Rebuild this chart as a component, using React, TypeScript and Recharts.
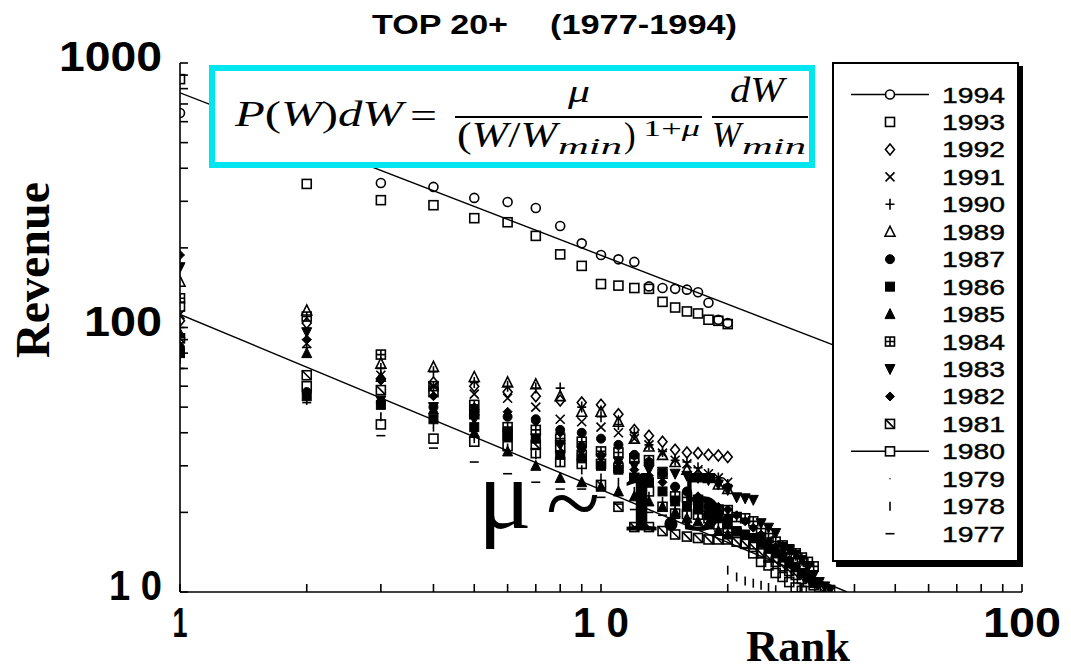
import { ScatterChart, Scatter, XAxis, YAxis } from 'recharts';

// ranks (x) shared by every year
const ranks = [
  1, 2, 3, 4, 5, 6, 7, 8, 9, 10, 11, 12, 13, 14, 15, 16, 17, 18, 19, 20,
  21, 22, 23, 24, 25, 26, 27, 28, 29, 30, 31, 32, 33, 34, 35,
];

// revenue by rank
const y1994 = [647, 480, 352, 340, 309, 298, 283, 242, 208, 188, 181, 177, 143, 141, 140, 139, 136, 124, 107, 104];
const y1993 = [869, 349, 303, 290, 259, 250, 222, 189, 171, 146, 144, 141, 140, 125, 119, 115, 113, 107, 106, 103];
const y1992 = [106, 104, 64, 62, 60, 57, 55, 53, 52, 51, 47, 41, 39, 37, 34.5, 33.7, 33.5, 33, 32.8, 32.4];
const y1991 = [112, 87, 66, 60, 56, 54, 50, 45, 44, 42, 40, 38, 36, 33.5, 31.5, 30.5, 29, 28, 27, 26];
const y1990 = [100, 84, 70, 68, 62, 60, 59, 59, 50, 46, 43, 40, 36, 34, 31.5, 31, 29.5, 28, 27, 25.5];
const y1989 = [149, 116, 73, 71, 65, 62, 61, 55, 48, 48, 44, 38, 35.5, 33, 31, 29, 28, 27, 25.5, 24.5];
const y1987 = [84, 57, 52, 50, 48, 46, 45, 41, 40, 38, 36, 33, 31, 28, 25, 24, 22, 21, 20, 19];
const y1986 = [80, 55, 51, 45, 42, 39, 38, 33, 32, 30, 29, 27, 26, 24, 22, 21, 20.5, 19.5, 19, 18, 17, 16.5, 16, 15.3, 14.6, 14, 13.6, 12.9, 12.4, 11.8, 11.4, 10.8];
const y1985 = [95, 80, 65, 49, 40, 34, 30, 27, 26, 25, 24, 23, 22, 21, 20, 19, 18.5, 18, 17, 16.5];
const y1984 = [129, 110, 79, 60, 51, 42, 41, 38, 37, 34, 33.7, 32, 31.5, 28, 23, 22.8, 22.3, 21, 20.5, 20.4, 19.2, 19, 18.5, 16.7, 16, 15.5, 15, 14.5, 14, 13.5, 13, 12.5];
const y1983 = [169, 96, 53, 50, 45, 40, 38, 36, 34, 32, 31, 30, 29, 28.5, 28, 27.5, 27, 26.5, 25.5, 24.3, 22.8, 22.6, 22.3, 18.2, 17.5, 16.7, 14.8, 14.4, 13.8, 13.2, 12.4, 11.6, 10.9, 10.5, 10.2];
const y1982 = [188, 90, 63, 55, 50, 48, 44, 40, 36, 33, 31, 29, 27.5, 26, 25, 24, 23, 22, 21, 20.5, 19.5, 18.5, 17.5, 16.5, 15.5, 14.8, 14, 13.2, 12.5, 11.8];
const y1981 = [91, 66, 58, 57, 47, 39, 36, 35, 33, 25.4, 21, 17.6, 17.6, 17, 16.5, 16.2, 16, 15.8, 15.8, 15.8, 15.5, 15.2, 14.8, 14, 13.5, 13, 12.5, 12, 11.6, 11.2, 10.9, 10.6, 10.4, 10.2, 10.1];
const y1980 = [120, 60, 43, 38, 37, 35.6, 33.5, 31, 30.5, 30.5, 29.5, 27, 24, 21, 19.8, 19.7, 19.6, 19, 18, 17, 16.7, 15.3, 14, 13, 12.6, 11.8, 11.4, 10.9, 10.4, 10.1];
const y1979 = [82, 56, 47, 42, 38, 35, 32, 30, 28, 26.5, 25, 23.5, 22.5, 21.5, 20.5, 20, 19.5, 19, 18.5, 18];
const y1978 = [76, 53, 46, 42, 38, 35, 33, 31, 29, 27, 26, 24, 23, 22, 21, 20, 19.5, 19, 18, 12.1, 11.4, 11, 10.8, 10.6, 10.4, 10.2];
const y1977 = [70, 52, 39, 35, 31, 28, 26, 24.5, 24.5, 22.8, 21.5, 20.5, 20, 19.5, 19, 18.5, 18, 17.5, 17, 16.8];

// power-law fits (end points)
const fitRanksTop = [1, 40];
const fitValuesTop = [771, 80];
const fitRanksLow = [1, 38.4];
const fitValuesLow = [112, 10];

const xTicks = [1, 2, 3, 4, 5, 6, 7, 8, 9, 10, 20, 30, 40, 50, 60, 70, 80, 90, 100];
const yTicks = [10, 20, 30, 40, 50, 60, 70, 80, 90, 100, 200, 300, 400, 500, 600, 700, 800, 900, 1000];
const xLabels: Record<number, [string, number]> = { 1: ['1', 15], 10: ['1 0', 56], 100: ['100', 78] };
const yLabels: Record<number, [string, number]> = { 10: ['1 0', 53], 100: ['100', 78], 1000: ['1000', 103] };

type Kind =
  | 'circle' | 'square' | 'diamond' | 'cross' | 'plus' | 'triangle' | 'dot'
  | 'fsquare' | 'ftriangle' | 'sqplus' | 'tridown' | 'fdiamond' | 'sqslash'
  | 'pixel' | 'vtick' | 'htick';

const series: { year: string; kind: Kind; values: number[]; line?: boolean }[] = [
  { year: '1994', kind: 'circle', values: y1994, line: true },
  { year: '1993', kind: 'square', values: y1993 },
  { year: '1992', kind: 'diamond', values: y1992 },
  { year: '1991', kind: 'cross', values: y1991 },
  { year: '1990', kind: 'plus', values: y1990 },
  { year: '1989', kind: 'triangle', values: y1989 },
  { year: '1987', kind: 'dot', values: y1987 },
  { year: '1986', kind: 'fsquare', values: y1986 },
  { year: '1985', kind: 'ftriangle', values: y1985 },
  { year: '1984', kind: 'sqplus', values: y1984 },
  { year: '1983', kind: 'tridown', values: y1983 },
  { year: '1982', kind: 'fdiamond', values: y1982 },
  { year: '1981', kind: 'sqslash', values: y1981 },
  { year: '1980', kind: 'square', values: y1980, line: true },
  { year: '1979', kind: 'pixel', values: y1979 },
  { year: '1978', kind: 'vtick', values: y1978 },
  { year: '1977', kind: 'htick', values: y1977 },
];

const toPoints = (xs: number[], ys: number[]) => ys.map((v, i) => ({ x: xs[i], y: v }));

function Marker({ kind, cx, cy }: { kind: Kind; cx: number; cy: number }) {
  const k = { stroke: '#000', strokeWidth: 1.6, fill: 'none' };
  const f = { fill: '#000', stroke: '#000', strokeWidth: 1 };
  const s = 4.5;
  switch (kind) {
    case 'circle':
      return <circle cx={cx} cy={cy} r={s} {...k} />;
    case 'square':
      return <rect x={cx - s} y={cy - s} width={2 * s} height={2 * s} {...k} />;
    case 'diamond':
      return <path d={`M${cx},${cy - s - 1}L${cx + s},${cy}L${cx},${cy + s + 1}L${cx - s},${cy}Z`} {...k} />;
    case 'cross':
      return <path d={`M${cx - s},${cy - s}L${cx + s},${cy + s}M${cx - s},${cy + s}L${cx + s},${cy - s}`} {...k} />;
    case 'plus':
      return <path d={`M${cx - s},${cy}L${cx + s},${cy}M${cx},${cy - s - 1}L${cx},${cy + s + 1}`} {...k} />;
    case 'triangle':
      return <path d={`M${cx},${cy - s - 1}L${cx + s + 0.5},${cy + s}L${cx - s - 0.5},${cy + s}Z`} {...k} />;
    case 'dot':
      return <circle cx={cx} cy={cy} r={s} {...f} />;
    case 'fsquare':
      return <rect x={cx - s} y={cy - s} width={2 * s} height={2 * s} {...f} />;
    case 'ftriangle':
      return <path d={`M${cx},${cy - s - 1}L${cx + s + 0.5},${cy + s}L${cx - s - 0.5},${cy + s}Z`} {...f} />;
    case 'sqplus':
      return (
        <g {...k}>
          <rect x={cx - s} y={cy - s} width={2 * s} height={2 * s} />
          <path d={`M${cx - s},${cy}L${cx + s},${cy}M${cx},${cy - s}L${cx},${cy + s}`} />
        </g>
      );
    case 'tridown':
      return <path d={`M${cx - s - 0.5},${cy - s}L${cx + s + 0.5},${cy - s}L${cx},${cy + s + 1}Z`} {...f} />;
    case 'fdiamond':
      return <path d={`M${cx},${cy - s}L${cx + s},${cy}L${cx},${cy + s}L${cx - s},${cy}Z`} {...f} />;
    case 'sqslash':
      return (
        <g {...k}>
          <rect x={cx - s} y={cy - s} width={2 * s} height={2 * s} />
          <path d={`M${cx - s},${cy - s}L${cx + s},${cy + s}`} />
        </g>
      );
    case 'pixel':
      return <circle cx={cx} cy={cy} r={0.7} fill="#000" />;
    case 'vtick':
      return <path d={`M${cx},${cy - s}L${cx},${cy + s}`} {...k} />;
    case 'htick':
      return <path d={`M${cx - s},${cy}L${cx + s},${cy}`} {...k} />;
  }
  return null;
}

const tickFont = { fontFamily: 'Liberation Sans, Arial, sans-serif', fontWeight: 700, fontSize: 42, fill: '#000' };

function YTick(props: any) {
  const lab = yLabels[props.payload.value];
  if (!lab) return <g />;
  return (
    <text x={props.x} y={props.y + 8} textAnchor="end" textLength={lab[1]} lengthAdjust="spacingAndGlyphs" {...tickFont}>
      {lab[0]}
    </text>
  );
}

function XTick(props: any) {
  const lab = xLabels[props.payload.value];
  if (!lab) return <g />;
  return (
    <text x={props.x - lab[1] / 2} y={props.y} textLength={lab[1]} lengthAdjust="spacingAndGlyphs" {...tickFont}>
      {lab[0]}
    </text>
  );
}

const serif = 'Liberation Serif, Times New Roman, serif';
const cyan = '#00e6ef';

function Overlay() {
  const rowY = (i: number) => 94.5 + 27.45 * i;
  return (
    <svg width={1071} height={670} style={{ position: 'absolute', left: 0, top: 0, pointerEvents: 'none' }}>
      {/* title */}
      <g fontFamily="Liberation Sans, Arial, sans-serif" fontWeight={700} fontSize={27}>
        <text x={372} y={34} textLength={136} lengthAdjust="spacingAndGlyphs">TOP 20+</text>
        <text x={550} y={34} textLength={187} lengthAdjust="spacingAndGlyphs">(1977-1994)</text>
      </g>
      {/* axis titles */}
      <text transform="translate(49,270) rotate(-90)" textAnchor="middle" fontFamily={serif} fontWeight={700} fontSize={48}>
        Revenue
      </text>
      <text x={746} y={661} textLength={104} lengthAdjust="spacingAndGlyphs" fontFamily={serif} fontWeight={700} fontSize={44}>
        Rank
      </text>

      {/* formula box */}
      <rect x={212} y={68} width={600} height={97} fill="#fff" stroke={cyan} strokeWidth={6} />
      <g fontFamily={serif} fill="#000">
        <text x={235} y={126} fontSize={35} textLength={168} lengthAdjust="spacingAndGlyphs">
          <tspan fontStyle="italic">P</tspan>(<tspan fontStyle="italic">W</tspan>)<tspan fontStyle="italic">dW</tspan>
        </text>
        <text x={410} y={128} fontSize={36} textLength={27} lengthAdjust="spacingAndGlyphs">=</text>
        <text x={568} y={102} fontSize={32} fontStyle="italic" textLength={22} lengthAdjust="spacingAndGlyphs">μ</text>
        <line x1={455} x2={702} y1={117} y2={117} stroke="#000" strokeWidth={2} />
        <text x={457} y={147} fontSize={35} textLength={100} lengthAdjust="spacingAndGlyphs">
          (<tspan fontStyle="italic">W</tspan>/<tspan fontStyle="italic">W</tspan>
        </text>
        <text x={558} y={154} fontSize={24} fontStyle="italic" textLength={64} lengthAdjust="spacingAndGlyphs">min</text>
        <text x={624} y={147} fontSize={35}>)</text>
        <text x={643} y={136} fontSize={24} textLength={57} lengthAdjust="spacingAndGlyphs">
          1+<tspan fontStyle="italic">μ</tspan>
        </text>
        <line x1={712} x2={808} y1={117} y2={117} stroke="#000" strokeWidth={2} />
        <text x={730} y={102} fontSize={35} fontStyle="italic" textLength={54} lengthAdjust="spacingAndGlyphs">dW</text>
        <text x={712} y={147} fontSize={35} fontStyle="italic" textLength={29} lengthAdjust="spacingAndGlyphs">W</text>
        <text x={742} y={154} fontSize={24} fontStyle="italic" textLength={64} lengthAdjust="spacingAndGlyphs">min</text>
      </g>

      {/* exponent note */}
      <g fontFamily={serif} fill="#000">
        <text x={478} y={528} fontSize={100}>μ</text>
        <text x={546} y={536} fontSize={100}>~</text>
        <text x={620} y={530} fontSize={86} fontWeight={700} textLength={102} lengthAdjust="spacingAndGlyphs">1.5</text>
      </g>

      {/* legend */}
      <rect x={1017} y={66} width={6} height={501} fill="#000" />
      <rect x={836} y={560} width={187} height={7} fill="#000" />
      <rect x={833} y={63} width={185} height={498} fill="#fff" stroke="#000" strokeWidth={2} />
      {series.map((s, i) => (
        <g key={s.year}>
          {s.line && <line x1={851} x2={929} y1={rowY(i)} y2={rowY(i)} stroke="#000" strokeWidth={1.5} />}
          {s.line && <rect x={885} y={rowY(i) - 5} width={10} height={10} fill="#fff" />}
          <Marker kind={s.kind} cx={890} cy={rowY(i)} />
          <text
            x={942}
            y={rowY(i) + 8}
            fontFamily="Liberation Sans, Arial, sans-serif"
            fontSize={21.5}
            stroke="#000"
            strokeWidth={0.4}
            textLength={63}
            lengthAdjust="spacingAndGlyphs"
          >
            {s.year}
          </text>
        </g>
      ))}
    </svg>
  );
}

export default function App() {
  return (
    <div style={{ position: 'absolute', left: 0, top: 0, width: 1071, height: 670, background: '#fff' }}>
      <ScatterChart width={1071} height={670} margin={{ top: 63, right: 49, bottom: 38, left: 100 }}>
        <XAxis
          xAxisId="b"
          dataKey="x"
          type="number"
          scale="log"
          domain={[1, 100]}
          allowDataOverflow
          ticks={xTicks}
          interval={0}
          height={40}
          tickSize={-8}
          tickMargin={53}
          tick={<XTick />}
          stroke="#000"
          strokeWidth={1.6}
        />
        <XAxis
          xAxisId="t"
          orientation="top"
          type="number"
          scale="log"
          domain={[1, 100]}
          allowDataOverflow
          ticks={xTicks}
          interval={0}
          height={0}
          tickSize={-8}
          tick={false}
          stroke="#000"
          strokeWidth={1.6}
        />
        <YAxis
          yAxisId="l"
          dataKey="y"
          type="number"
          scale="log"
          domain={[10, 1000]}
          allowDataOverflow
          ticks={yTicks}
          interval={0}
          width={80}
          tickSize={-8}
          tickMargin={26}
          tick={<YTick />}
          stroke="#000"
          strokeWidth={1.6}
        />
        <YAxis
          yAxisId="r"
          orientation="right"
          type="number"
          scale="log"
          domain={[10, 1000]}
          allowDataOverflow
          ticks={yTicks}
          interval={0}
          width={0}
          tickSize={-8}
          tick={false}
          stroke="#000"
          strokeWidth={1.6}
        />
        {series.map((s) => (
          <Scatter
            key={s.year}
            xAxisId="b"
            yAxisId="l"
            data={toPoints(ranks, s.values)}
            isAnimationActive={false}
            shape={(p: any) => <Marker kind={s.kind} cx={p.cx} cy={p.cy} />}
          />
        ))}
        <Scatter
          xAxisId="b"
          yAxisId="l"
          data={toPoints(fitRanksTop, fitValuesTop)}
          line={{ stroke: '#000', strokeWidth: 1.4 }}
          shape={() => <g />}
          isAnimationActive={false}
        />
        <Scatter
          xAxisId="b"
          yAxisId="l"
          data={toPoints(fitRanksLow, fitValuesLow)}
          line={{ stroke: '#000', strokeWidth: 1.4 }}
          shape={() => <g />}
          isAnimationActive={false}
        />
      </ScatterChart>
      <Overlay />
    </div>
  );
}
